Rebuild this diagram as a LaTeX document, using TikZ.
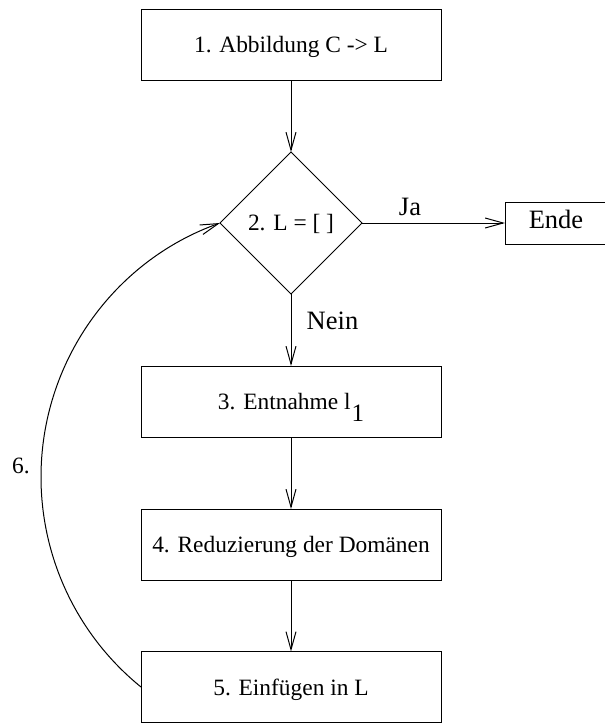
\documentclass[tikz,border=0pt]{standalone}
\usepackage{fontspec}
\setmainfont{Liberation Serif}
\usetikzlibrary{shapes.geometric,arrows.meta}
\begin{document}
\begin{tikzpicture}[x=1pt,y=-1pt,line width=1pt,
  stepbox/.style={draw,rectangle,minimum width=300pt,minimum height=71pt,
    inner sep=0pt,outer sep=0pt,text height=16pt,text depth=0pt,
    font=\fontsize{23.4}{28}\selectfont},
  testbox/.style={draw,diamond,minimum width=142pt,minimum height=142pt,
    inner sep=0pt,outer sep=0pt,text height=14pt,text depth=0pt,
    font=\fontsize{23.4}{28}\selectfont},
  endbox/.style={draw,rectangle,minimum width=102pt,minimum height=42pt,
    inner sep=0pt,outer sep=0pt,text height=10pt,text depth=0pt,
    font=\fontsize{26.5}{30}\selectfont},
  lbl/.style={anchor=base,inner sep=0pt,font=\fontsize{26.5}{30}\selectfont},
  flow/.style={-{Straight Barb[length=18pt,width=10pt]}}]
\useasboundingbox (0,0) rectangle (605,723);

% steps of the loop
\node[stepbox] (s1) at (291,44.5) {1. Abbildung C -> L};
\node[testbox] (s2) at (291,223) {2. L = [ ]};
\node[endbox]  (end) at (556,223) {Ende};
\node[stepbox] (s3) at (291,401.5) {3. Entnahme l\kern1pt\raisebox{-12pt}[0pt][0pt]{\fontsize{25}{30}\selectfont 1}};
\node[stepbox] (s4) at (291,544.5) {4. Reduzierung der Domänen};
\node[stepbox] (s5) at (291,687) {5. Einfügen in L};

% straight connectors
\draw[flow] (s1.south) -- (s2.north);
\draw[flow] (s2.east) -- (end.west);
\draw[flow] (s2.south) -- (s3.north);
\draw[flow] (s3.south) -- (s4.north);
\draw[flow] (s4.south) -- (s5.north);

% branch labels
\node[lbl] (ja) at (410,215) {Ja};
\node[lbl] (nein) at (332.5,329) {Nein};

% loop back from step 5 to the test
\coordinate (loopmid) at (41,477);
\draw[flow] (s5.west) .. controls (77.7,635.7) and (41,558.5) .. (loopmid)
  .. controls (41,363) and (112.7,261.4) .. (s2.west);
\node[anchor=base,inner sep=0pt,font=\fontsize{23.4}{28}\selectfont] (six) at (21,473) {6.};
\end{tikzpicture}
\end{document}
